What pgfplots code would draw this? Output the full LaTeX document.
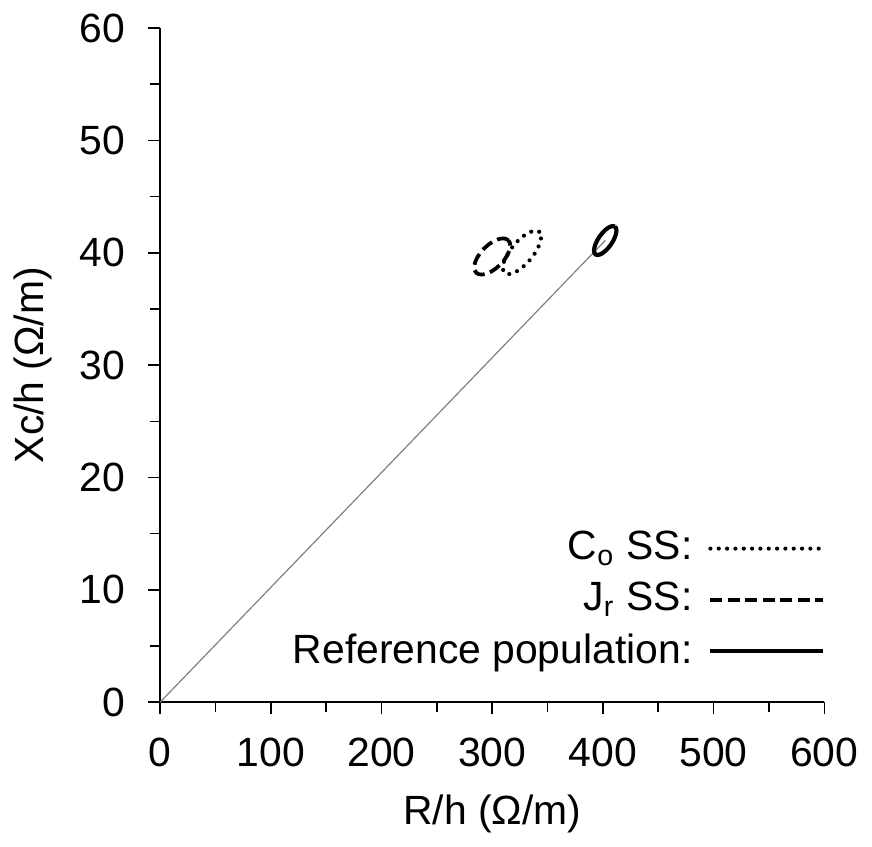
\documentclass[border=0pt]{standalone}
\usepackage{fontspec}
\setmainfont{Liberation Sans}
\usepackage{pgfplots}
\pgfplotsset{compat=1.18}

\begin{document}
\fontsize{10.3}{12.4}\selectfont
\begin{tikzpicture}
\begin{axis}[
    scale only axis,
    width=167.5pt, height=170pt,
    xmin=0, xmax=600, ymin=0, ymax=60,
    axis x line*=bottom, axis y line*=left,
    axis line style={line width=0.45pt},
    xtick={0,100,...,600}, ytick={0,10,...,60},
    minor x tick num=1, minor y tick num=1,
    tick align=outside,
    major tick length=3pt, minor tick length=2.6pt,
    tick style={black, line width=0.4pt},
    /pgf/number format/assume math mode=true,
    ticklabel style={font=\fontsize{10.3}{12}\selectfont},
    yticklabel style={xshift=-2.2pt},
    xticklabel style={yshift=-2.3pt},
    label style={font=\fontsize{10.3}{12}\selectfont},
    xlabel={R/h (Ω/m)}, ylabel={Xc/h (Ω/m)},
    legend style={draw=none, fill=none, at={(1.003,0.036)}, anchor=south east,
        font=\fontsize{10.3}{12}\selectfont, row sep=0.15pt, column sep=2pt,
        inner xsep=0pt, inner ysep=0pt},
    legend plot pos=right,
    legend cell align=right,
    legend image code/.code={\draw[#1] (0pt,0pt) -- (28.5pt,0pt);},
]
% vector from origin to the reference mean
\addplot[gray, line width=0.3pt, forget plot] coordinates {(0,0) (402.1,41.1)};

% C_o SS
\addplot[black, line width=1.05pt, line cap=round, dash pattern=on 0pt off 2.1pt] coordinates {
(342.40,41.87) (339.92,41.97) (336.55,41.93) (332.51,41.77) (328.10,41.49) (323.59,41.11)
(319.31,40.66) (315.55,40.16) (312.55,39.66) (310.53,39.18) (309.63,38.75) (309.90,38.42)
(311.32,38.19) (313.80,38.09) (317.17,38.13) (321.21,38.29) (325.62,38.57) (330.13,38.95)
(334.41,39.40) (338.17,39.90) (341.17,40.40) (343.19,40.88) (344.09,41.31) (343.82,41.64)
(342.40,41.87)
};
\addlegendentry{C\textsubscript{o} SS:}

% J_r SS
\addplot[black, line width=0.95pt, dash pattern=on 3pt off 1.4pt] coordinates {
(314.56,41.11) (312.18,41.25) (308.97,41.28) (305.15,41.20) (300.98,41.02) (296.74,40.74)
(292.72,40.39) (289.20,39.99) (286.41,39.57) (284.55,39.16) (283.75,38.78) (284.05,38.46)
(285.44,38.23) (287.82,38.09) (291.03,38.06) (294.85,38.14) (299.02,38.32) (303.27,38.60)
(307.28,38.95) (310.80,39.35) (313.59,39.77) (315.45,40.18) (316.25,40.56) (315.95,40.88)
(314.56,41.11)
};
\addlegendentry{J\textsubscript{r} SS:}

% reference population
\addplot[black, line width=1.05pt] coordinates {
(410.82,42.33) (409.20,42.38) (407.08,42.34) (404.63,42.22) (402.01,42.02) (399.39,41.75)
(396.96,41.45) (394.87,41.11) (393.28,40.78) (392.29,40.47) (391.96,40.20) (392.33,39.99)
(393.36,39.85) (394.99,39.80) (397.10,39.84) (399.55,39.96) (402.17,40.16) (404.79,40.43)
(407.23,40.73) (409.31,41.07) (410.90,41.40) (411.90,41.71) (412.22,41.98) (411.85,42.19)
(410.82,42.33)
};
\addlegendentry{Reference population:}
\end{axis}
\end{tikzpicture}
\end{document}
